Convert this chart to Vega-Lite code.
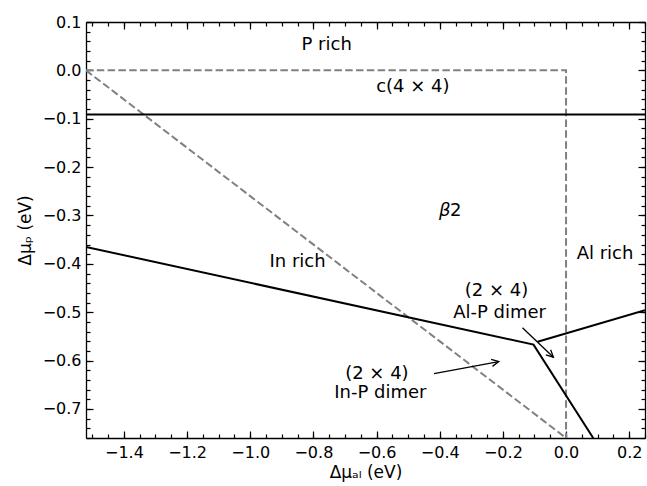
{
  "$schema": "https://vega.github.io/schema/vega-lite/v6.json",
  "width": 559,
  "height": 416,
  "autosize": {"type": "none"},
  "padding": {"left": 86, "top": 22, "right": 2, "bottom": 48},
  "background": "white",
  "config": {
    "view": {"stroke": null},
    "font": "DejaVu Sans",
    "axis": {
      "grid": false,
      "tickColor": "black",
      "domainColor": "black",
      "labelColor": "black",
      "titleColor": "black",
      "labelFont": "DejaVu Sans",
      "titleFont": "DejaVu Sans",
      "labelFontSize": 16,
      "titleFontSize": 17,
      "titleFontWeight": "normal",
      "tickWidth": 1.2,
      "domainWidth": 1.3
    }
  },
  "datasets": {
    "dashed": [
      {"seg": "a", "i": 0, "x": -1.52, "y": 0},
      {"seg": "a", "i": 1, "x": 0, "y": 0},
      {"seg": "a", "i": 2, "x": 0, "y": -0.76},
      {"seg": "b", "i": 0, "x": -1.52, "y": 0},
      {"seg": "b", "i": 1, "x": 0, "y": -0.76}
    ],
    "solid": [
      {"seg": "h", "i": 0, "x": -1.52, "y": -0.091},
      {"seg": "h", "i": 1, "x": 0.25, "y": -0.091},
      {"seg": "l", "i": 0, "x": -1.52, "y": -0.365},
      {"seg": "l", "i": 1, "x": -0.103, "y": -0.567},
      {"seg": "l", "i": 2, "x": 0.086, "y": -0.76},
      {"seg": "r", "i": 0, "x": -0.09, "y": -0.561},
      {"seg": "r", "i": 1, "x": 0.25, "y": -0.496}
    ],
    "labels": [
      {"text": "P rich", "x": -0.758, "y": 0.0517},
      {"text": "c(4 × 4)", "x": -0.485, "y": -0.0345},
      {"text": "2", "x": -0.3495, "y": -0.291},
      {"text": "In rich", "x": -0.85, "y": -0.396},
      {"text": "Al rich", "x": 0.1235, "y": -0.379},
      {"text": "(2 × 4)", "x": -0.22, "y": -0.4566},
      {"text": "Al-P dimer", "x": -0.2106, "y": -0.5006},
      {"text": "(2 × 4)", "x": -0.599, "y": -0.6267},
      {"text": "In-P dimer", "x": -0.588, "y": -0.668}
    ],
    "mathlabels": [
      {"text": "β", "x": -0.384, "y": -0.291}
    ],
    "arrows": [
      {"id": "alp", "x": -0.138, "y": -0.532, "x2": -0.04, "y2": -0.593},
      {"id": "inp", "x": -0.418, "y": -0.627, "x2": -0.213, "y2": -0.602}
    ]
  },
  "layer": [
    {
      "data": {"name": "dashed"},
      "mark": {"type": "line", "color": "#808080", "strokeWidth": 2, "strokeDash": [7.5, 3.3], "clip": true},
      "encoding": {
        "x": {"field": "x", "type": "quantitative",
          "scale": {"domain": [-1.52, 0.25], "nice": false, "zero": false},
          "axis": {"orient": "bottom", "values": [-1.4, -1.2, -1.0, -0.8, -0.6, -0.4, -0.2, 0, 0.2], "format": ".1f", "tickSize": -7, "labelPadding": 13, "title": "Δμₐₗ (eV)", "titlePadding": 4, "domain": true}},
        "y": {"field": "y", "type": "quantitative",
          "scale": {"domain": [-0.76, 0.1], "nice": false, "zero": false},
          "axis": {"orient": "left", "values": [-0.7, -0.6, -0.5, -0.4, -0.3, -0.2, -0.1, 0, 0.1], "format": ".1f", "tickSize": -7, "labelPadding": 12, "title": "Δμₚ (eV)", "titlePadding": 8, "domain": true}},
        "detail": {"field": "seg"},
        "order": {"field": "i", "type": "quantitative"}
      }
    },
    {
      "data": {"name": "solid"},
      "mark": {"type": "line", "color": "black", "strokeWidth": 2, "clip": true},
      "encoding": {
        "x": {"field": "x", "type": "quantitative",
          "scale": {"domain": [-1.52, 0.25], "nice": false, "zero": false},
          "axis": {"orient": "top", "values": [-1.4, -1.2, -1.0, -0.8, -0.6, -0.4, -0.2, 0, 0.2], "tickSize": -7, "labels": false, "title": null, "domain": true}},
        "y": {"field": "y", "type": "quantitative",
          "scale": {"domain": [-0.76, 0.1], "nice": false, "zero": false},
          "axis": {"orient": "right", "values": [-0.7, -0.6, -0.5, -0.4, -0.3, -0.2, -0.1, 0, 0.1], "tickSize": -7, "labels": false, "title": null, "domain": true}},
        "detail": {"field": "seg"},
        "order": {"field": "i", "type": "quantitative"}
      }
    },
    {
      "data": {"name": "labels"},
      "mark": {"type": "text", "font": "DejaVu Sans", "fontSize": 18, "color": "black", "align": "center", "baseline": "middle"},
      "encoding": {
        "x": {"field": "x", "type": "quantitative",
          "scale": {"domain": [-1.52, 0.25], "nice": false, "zero": false},
          "axis": {"orient": "bottom", "values": [-1.5, -1.45, -1.4, -1.35, -1.3, -1.25, -1.2, -1.15, -1.1, -1.05, -1.0, -0.95, -0.9, -0.85, -0.8, -0.75, -0.7, -0.65, -0.6, -0.55, -0.5, -0.45, -0.4, -0.35, -0.3, -0.25, -0.2, -0.15, -0.1, -0.05, 0, 0.05, 0.1, 0.15, 0.2, 0.25], "tickSize": -4, "labels": false, "title": null, "domain": false}},
        "y": {"field": "y", "type": "quantitative",
          "scale": {"domain": [-0.76, 0.1], "nice": false, "zero": false},
          "axis": {"orient": "left", "values": [-0.76, -0.74, -0.72, -0.7, -0.68, -0.66, -0.64, -0.62, -0.6, -0.58, -0.56, -0.54, -0.52, -0.5, -0.48, -0.46, -0.44, -0.42, -0.4, -0.38, -0.36, -0.34, -0.32, -0.3, -0.28, -0.26, -0.24, -0.22, -0.2, -0.18, -0.16, -0.14, -0.12, -0.1, -0.08, -0.06, -0.04, -0.02, 0, 0.02, 0.04, 0.06, 0.08, 0.1], "tickSize": -4, "labels": false, "title": null, "domain": false}},
        "text": {"field": "text"}
      }
    },
    {
      "data": {"name": "mathlabels"},
      "mark": {"type": "text", "font": "DejaVu Sans", "fontSize": 18, "fontStyle": "italic", "color": "black", "align": "center", "baseline": "middle"},
      "encoding": {
        "x": {"field": "x", "type": "quantitative", "scale": {"domain": [-1.52, 0.25], "nice": false, "zero": false}, "axis": null},
        "y": {"field": "y", "type": "quantitative", "scale": {"domain": [-0.76, 0.1], "nice": false, "zero": false}, "axis": null},
        "text": {"field": "text"}
      }
    },
    {
      "data": {"name": "arrows"},
      "mark": {"type": "rule", "color": "black", "strokeWidth": 1.3},
      "encoding": {
        "x": {"field": "x", "type": "quantitative",
          "scale": {"domain": [-1.52, 0.25], "nice": false, "zero": false},
          "axis": {"orient": "top", "values": [-1.5, -1.45, -1.4, -1.35, -1.3, -1.25, -1.2, -1.15, -1.1, -1.05, -1.0, -0.95, -0.9, -0.85, -0.8, -0.75, -0.7, -0.65, -0.6, -0.55, -0.5, -0.45, -0.4, -0.35, -0.3, -0.25, -0.2, -0.15, -0.1, -0.05, 0, 0.05, 0.1, 0.15, 0.2, 0.25], "tickSize": -4, "labels": false, "title": null, "domain": false}},
        "y": {"field": "y", "type": "quantitative",
          "scale": {"domain": [-0.76, 0.1], "nice": false, "zero": false},
          "axis": {"orient": "right", "values": [-0.76, -0.74, -0.72, -0.7, -0.68, -0.66, -0.64, -0.62, -0.6, -0.58, -0.56, -0.54, -0.52, -0.5, -0.48, -0.46, -0.44, -0.42, -0.4, -0.38, -0.36, -0.34, -0.32, -0.3, -0.28, -0.26, -0.24, -0.22, -0.2, -0.18, -0.16, -0.14, -0.12, -0.1, -0.08, -0.06, -0.04, -0.02, 0, 0.02, 0.04, 0.06, 0.08, 0.1], "tickSize": -4, "labels": false, "title": null, "domain": false}},
        "x2": {"field": "x2"},
        "y2": {"field": "y2"}
      }
    },
    {
      "data": {"name": "arrows"},
      "transform": [{"filter": "datum.id === 'alp'"}],
      "mark": {"type": "point", "shape": "M-1,-0.5L0,0L-1,0.5", "size": 200, "filled": false, "stroke": "black", "strokeWidth": 1.3, "opacity": 1, "angle": 43},
      "encoding": {
        "x": {"field": "x2", "type": "quantitative", "scale": {"domain": [-1.52, 0.25], "nice": false, "zero": false}, "axis": null},
        "y": {"field": "y2", "type": "quantitative", "scale": {"domain": [-0.76, 0.1], "nice": false, "zero": false}, "axis": null}
      }
    },
    {
      "data": {"name": "arrows"},
      "transform": [{"filter": "datum.id === 'inp'"}],
      "mark": {"type": "point", "shape": "M-1,-0.5L0,0L-1,0.5", "size": 200, "filled": false, "stroke": "black", "strokeWidth": 1.3, "opacity": 1, "angle": -10.7},
      "encoding": {
        "x": {"field": "x2", "type": "quantitative", "scale": {"domain": [-1.52, 0.25], "nice": false, "zero": false}, "axis": null},
        "y": {"field": "y2", "type": "quantitative", "scale": {"domain": [-0.76, 0.1], "nice": false, "zero": false}, "axis": null}
      }
    }
  ],
  "resolve": {"axis": {"x": "independent", "y": "independent"}}
}
